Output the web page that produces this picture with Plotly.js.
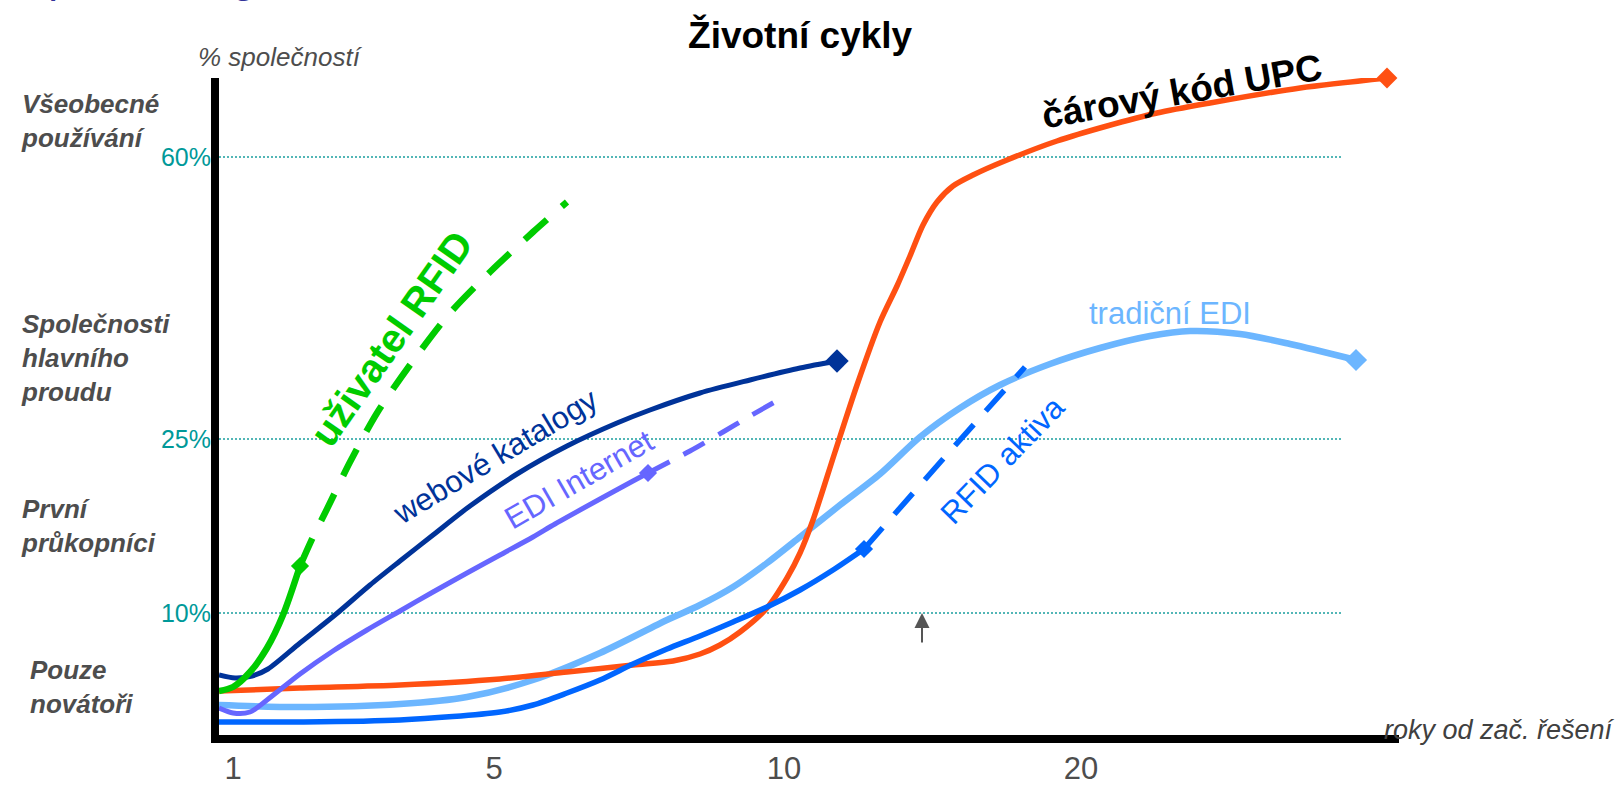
<!DOCTYPE html>
<html><head><meta charset="utf-8">
<script src="https://cdn.plot.ly/plotly-3.0.1.min.js"></script>
<style>html,body{margin:0;padding:0;background:#fff;overflow:hidden}</style>
</head><body><div id="chart" style="width:1623px;height:786px"></div>
<script>
// ---- data (schematic positions) ----
const xTickVals = [1.4, 27.5, 56.5, 86.2];
const xTickText = ['1', '5', '10', '20'];
const yTickVals = [12.2, 29.6, 57.8];
const yTickText = ['10%', '25%', '60%'];

const upcX = [0, 8.1, 18.1, 28.1, 34.8, 41.4, 45.4, 48.1, 50.1, 52.1, 54.8, 56.8, 58.1, 59.4, 61.6, 63.8, 66.1, 67.8, 69.1, 70.4, 71.8, 73.4, 75.4, 78.8, 83.8, 88.8, 93.8, 99.1, 108.1, 116.8];
const upcY = [4.4, 4.7, 5.0, 5.6, 6.3, 7.0, 7.4, 8.1, 9.0, 10.3, 12.7, 15.7, 18.2, 21.5, 28.3, 35.0, 41.3, 44.9, 47.9, 51.0, 53.3, 54.9, 56.0, 57.5, 59.4, 60.9, 62.2, 63.2, 64.7, 65.7];

const tradEdiX = [0, 8.1, 18.1, 24.8, 31.4, 38.1, 44.8, 48.1, 51.4, 54.8, 58.1, 62.1, 66.1, 70.1, 74.1, 78.1, 83.1, 88.1, 93.1, 97.1, 102.1, 107.1, 113.7];
const tradEdiY = [3.0, 2.8, 3.1, 3.8, 5.5, 8.2, 11.5, 13.0, 14.8, 17.2, 19.8, 23.0, 26.1, 29.8, 32.7, 35.0, 37.1, 38.7, 39.9, 40.4, 40.1, 39.1, 37.5];

const webX = [0, 1.6, 3.3, 4.9, 8.1, 11.6, 15.1, 18.1, 21.4, 25.1, 29.8, 34.8, 39.8, 43.1, 48.1, 53.1, 58.1, 61.8];
const webY = [6.0, 5.7, 5.9, 6.6, 9.2, 12.0, 15.0, 17.4, 20.0, 22.9, 26.1, 28.9, 31.2, 32.5, 34.2, 35.5, 36.7, 37.4];

const ediNetX = [0, 1.4, 3.1, 4.8, 8.1, 11.4, 14.8, 18.1, 21.4, 24.8, 28.1, 31.4, 33.6, 38.1, 41.4, 42.9];
const ediNetY = [2.7, 2.2, 2.3, 3.5, 6.1, 8.4, 10.5, 12.4, 14.3, 16.2, 18.0, 19.8, 21.1, 23.6, 25.4, 26.2];
const ediNetFutX = [42.9, 47.1, 50.4, 53.1, 56.1];
const ediNetFutY = [26.2, 28.4, 30.3, 31.9, 33.6];

const rfidAktX = [0, 8.1, 18.1, 28.1, 31.4, 34.8, 38.1, 41.4, 44.8, 48.1, 51.4, 54.8, 58.1, 61.4, 64.5];
const rfidAktY = [1.3, 1.3, 1.5, 2.3, 3.0, 4.2, 5.5, 7.1, 8.6, 9.9, 11.3, 12.8, 14.5, 16.5, 18.6];
const rfidAktFutX = [64.5, 72.5, 80.6];
const rfidAktFutY = [18.6, 27.7, 36.8];

const rfidUserX = [0, 1.4, 3.1, 4.8, 6.4, 8.1];
const rfidUserY = [4.4, 4.8, 6.3, 8.7, 12.0, 16.9];
const rfidUserFutX = [8.1, 9.4, 10.8, 13.1, 15.8, 19.1, 23.1, 27.1, 31.4, 34.8];
const rfidUserFutY = [16.9, 19.8, 22.6, 27.3, 32.2, 37.0, 42.2, 46.3, 50.3, 53.3];

const stageLabels = ['Všeobecné<br>používání', 'Společnosti<br>hlavního<br>proudu', 'První<br>průkopníci', 'Pouze<br>novátoři'];
const stageY = [61.4, 37.7, 20.9, 4.8];

// ---- styling ----
const FONT = 'Liberation Sans, Arial, sans-serif';
const C = {upc:'#ff5012', trad:'#6cb6ff', web:'#003399', net:'#6666ff', akt:'#0066ff', user:'#00cc00'};

function lineTrace(x, y, color, width, dash) {
  return {x: x, y: y, type: 'scatter', mode: 'lines', hoverinfo: 'skip',
    line: {color: color, width: width, shape: 'spline', smoothing: 0.8, dash: dash || 'solid'}};
}
function endMarker(x, y, color, size) {
  return {x: [x[x.length - 1]], y: [y[y.length - 1]], type: 'scatter', mode: 'markers', hoverinfo: 'skip', cliponaxis: false,
    marker: {symbol: 'diamond', size: size, color: color}};
}

const traces = [
  lineTrace(tradEdiX, tradEdiY, C.trad, 6.5), endMarker(tradEdiX, tradEdiY, C.trad, 17),
  lineTrace(upcX, upcY, C.upc, 5.5), endMarker(upcX, upcY, C.upc, 16),
  lineTrace(rfidAktX, rfidAktY, C.akt, 5.5), endMarker(rfidAktX, rfidAktY, C.akt, 14),
  lineTrace(rfidAktFutX, rfidAktFutY, C.akt, 5.5, '28px,18px'),
  lineTrace(ediNetX, ediNetY, C.net, 5), endMarker(ediNetX, ediNetY, C.net, 14),
  lineTrace(ediNetFutX, ediNetFutY, C.net, 5, '24px,16px'),
  lineTrace(webX, webY, C.web, 5), endMarker(webX, webY, C.web, 18),
  lineTrace(rfidUserX, rfidUserY, C.user, 6.5), endMarker(rfidUserX, rfidUserY, C.user, 14),
  lineTrace(rfidUserFutX, rfidUserFutY, C.user, 6.5, '30px,20px')
];

const shapes = yTickVals.map(v => ({type: 'line', xref: 'x', yref: 'y', x0: 0, x1: 112.2, y0: v, y1: v,
  line: {color: '#1a9e9e', width: 1.5, dash: '2px,2px'}, layer: 'below'}));

const annotations = [
  {text: 'Aplikace logistika', xref: 'paper', yref: 'paper', x: -0.171, y: 1.1138, xanchor: 'left', yanchor: 'bottom',
   showarrow: false, font: {family: FONT, size: 44, color: '#333399'}},
  {text: '<i>% společností</i>', xref: 'paper', yref: 'paper', x: 0.0525, y: 1.032, xanchor: 'center', yanchor: 'middle',
   showarrow: false, font: {family: FONT, size: 26, color: '#4d4d4d'}},
  {text: '<i>roky od zač. řešení</i>', xref: 'paper', yref: 'paper', x: 0.9856, y: 0.008, xanchor: 'left', yanchor: 'middle',
   showarrow: false, font: {family: FONT, size: 27, color: '#404040'}},
  {text: '<b>čárový kód UPC</b>', xref: 'x', yref: 'y', x: 96.3, y: 64.4, textangle: -10, showarrow: false,
   font: {family: FONT, size: 37, color: '#000000'}},
  {text: '<b>uživatel RFID</b>', xref: 'x', yref: 'y', x: 17.2, y: 39.6, textangle: -55, showarrow: false,
   font: {family: FONT, size: 40, color: C.user}},
  {text: 'webové katalogy', xref: 'x', yref: 'y', x: 27.6, y: 27.9, textangle: -31, showarrow: false,
   font: {family: FONT, size: 31, color: C.web}},
  {text: 'EDI Internet', xref: 'x', yref: 'y', x: 36.0, y: 25.6, textangle: -30, showarrow: false,
   font: {family: FONT, size: 31, color: C.net}},
  {text: 'tradiční EDI', xref: 'x', yref: 'y', x: 95.1, y: 42.2, textangle: 0, showarrow: false,
   font: {family: FONT, size: 31, color: C.trad}},
  {text: 'RFID aktiva', xref: 'x', yref: 'y', x: 78.3, y: 27.5, textangle: -46, showarrow: false,
   font: {family: FONT, size: 31, color: C.akt}},
  {text: '', xref: 'x', yref: 'y', x: 70.3, y: 12.2, ax: 0, ay: 31, showarrow: true, arrowhead: 2,
   arrowsize: 1.5, arrowwidth: 2, arrowcolor: '#555555', standoff: 0}
];
stageLabels.forEach((t, i) => annotations.push({
  text: '<b><i>' + t + '</i></b>', xref: 'paper', yref: 'y', x: i === 3 ? -0.162 : -0.1695, y: stageY[i],
  xanchor: 'left', yanchor: 'middle', align: 'left', showarrow: false,
  font: {family: FONT, size: 26, color: '#4d4d4d'}
}));

const layout = {
  width: 1623, height: 786,
  margin: {l: 219, r: 224, t: 78, b: 51, pad: 0},
  paper_bgcolor: '#ffffff', plot_bgcolor: '#ffffff',
  showlegend: false,
  title: {text: '<b>Životní cykly</b>', x: 0.493, xref: 'container', xanchor: 'center',
          y: 0.956, yref: 'container', yanchor: 'middle', font: {family: FONT, size: 37, color: '#000000'}},
  xaxis: {range: [0, 118], showgrid: false, zeroline: false, showline: true, linecolor: '#000000', linewidth: 8,
          tickmode: 'array', tickvals: xTickVals, ticktext: xTickText, ticks: '', fixedrange: true,
          ticklabelstandoff: -1,
          tickfont: {family: FONT, size: 31, color: '#4d4d4d'}},
  yaxis: {range: [0, 65.7], showgrid: false, zeroline: false, showline: true, linecolor: '#000000', linewidth: 8,
          tickmode: 'array', tickvals: yTickVals, ticktext: yTickText, ticks: '', fixedrange: true,
          ticklabelstandoff: -5,
          tickfont: {family: FONT, size: 25, color: '#009999'}},
  shapes: shapes,
  annotations: annotations
};

Plotly.newPlot('chart', traces, layout, {displayModeBar: false, staticPlot: true});
</script></body></html>
